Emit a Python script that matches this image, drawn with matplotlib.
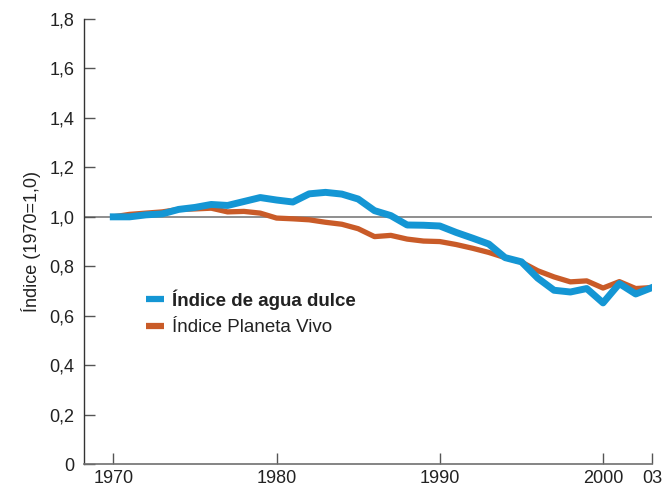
import matplotlib
matplotlib.use('Agg')
from matplotlib import pyplot as plt
from matplotlib.ticker import FuncFormatter

plt.rcParams['font.family'] = ['Liberation Sans', 'DejaVu Sans']

# datos
years = list(range(1970, 2004))
agua_dulce = [1.000, 1.000, 1.008, 1.012, 1.030, 1.038, 1.050, 1.046, 1.062, 1.078,
              1.068, 1.060, 1.093, 1.099, 1.092, 1.072, 1.025, 1.005, 0.967, 0.966,
              0.963, 0.937, 0.914, 0.890, 0.835, 0.818, 0.752, 0.703, 0.696, 0.710,
              0.652, 0.730, 0.688, 0.714]
planeta_vivo = [1.000, 1.010, 1.015, 1.020, 1.030, 1.032, 1.035, 1.020, 1.022, 1.015,
                0.995, 0.992, 0.988, 0.978, 0.970, 0.952, 0.920, 0.925, 0.910, 0.902,
                0.900, 0.888, 0.873, 0.856, 0.835, 0.817, 0.782, 0.757, 0.737, 0.741,
                0.712, 0.738, 0.710, 0.714]
xticks = [1970, 1980, 1990, 2000, 2003]
xlabels = ['1970', '1980', '1990', '2000', '03']
yticks = [0, 0.2, 0.4, 0.6, 0.8, 1.0, 1.2, 1.4, 1.6, 1.8]

azul = '#1496d4'
naranja = '#c95b28'

fig = plt.figure(figsize=(6.66, 4.88), dpi=100)
ax = fig.add_axes([0.126, 0.049, 0.853, 0.912])

ax.axhline(1.0, color='#707070', lw=1.1, zorder=1)
ax.plot(years, planeta_vivo, color=naranja, lw=3.8, solid_joinstyle='round',
        label='Índice Planeta Vivo', zorder=2)
ax.plot(years, agua_dulce, color=azul, lw=5, solid_joinstyle='round',
        label='Índice de agua dulce', zorder=3)

ax.set_xlim(1968.2, 2003)
ax.set_ylim(0, 1.8)
ax.set_xticks(xticks)
ax.set_xticklabels(xlabels)
ax.set_yticks(yticks)
ax.yaxis.set_major_formatter(FuncFormatter(
    lambda v, p: '0' if v == 0 else ('%.1f' % v).replace('.', ',')))

for s in ['top', 'right']:
    ax.spines[s].set_visible(False)
ax.spines['left'].set_color('#333333')
ax.spines['bottom'].set_color('#707070')
ax.spines['left'].set_linewidth(1.0)
ax.spines['bottom'].set_linewidth(1.2)
ax.tick_params(axis='both', direction='in', length=8, width=1, color='#555555',
               labelsize=13, labelcolor='#222222')
ax.tick_params(axis='y', pad=7)
ax.tick_params(axis='x', pad=4)

ax.set_ylabel('Índice (1970=1,0)', fontsize=13, color='#222222', labelpad=6)

handles, labels = ax.get_legend_handles_labels()
leg = ax.legend(handles[::-1], labels[::-1], loc='center left',
                bbox_to_anchor=(0.08, 0.34), frameon=False, fontsize=13.5,
                handlelength=0.95, handletextpad=0.45, labelspacing=0.5)
for line in leg.get_lines():
    line.set_linewidth(4.5)
    line.set_solid_capstyle('butt')
leg.get_texts()[0].set_fontweight('bold')
for t in leg.get_texts():
    t.set_color('#222222')

fig.savefig('out.png', dpi=100)
